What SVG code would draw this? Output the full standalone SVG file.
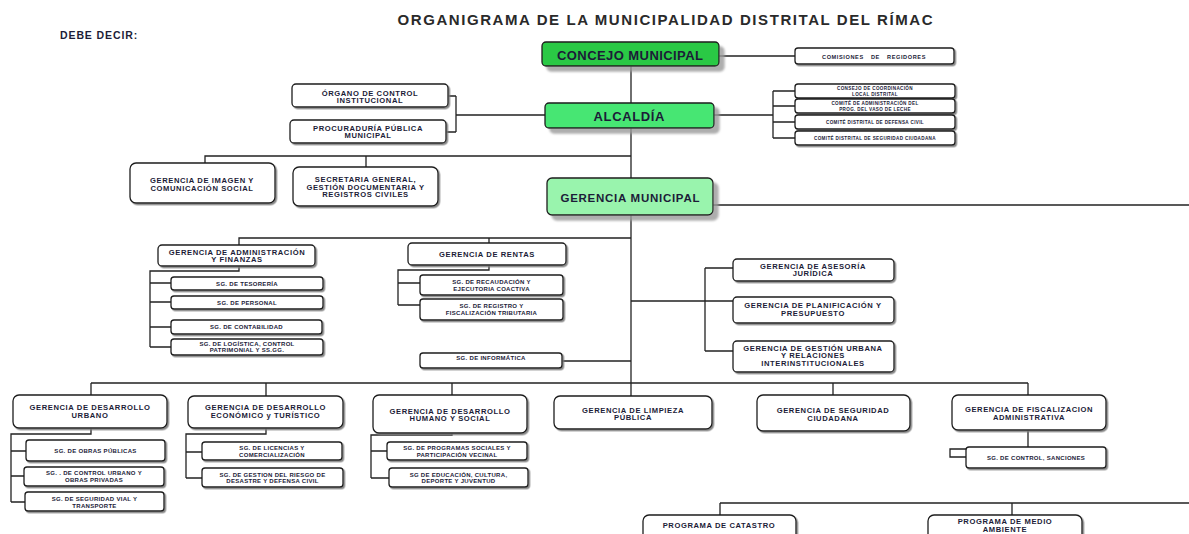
<svg xmlns="http://www.w3.org/2000/svg" width="1189" height="534" viewBox="0 0 1189 534">
<defs>
<filter id="ds" x="-10%" y="-20%" width="125%" height="150%"><feDropShadow dx="1.5" dy="1.5" stdDeviation="0.4" flood-color="#7a7a7a" flood-opacity="0.9"/></filter>
<filter id="dg" x="-10%" y="-20%" width="125%" height="160%"><feDropShadow dx="5" dy="5" stdDeviation="1" flood-color="#9a9a9a" flood-opacity="0.8"/></filter>
</defs>
<style>
.b{fill:#fff;stroke:#1e1e1e;stroke-width:1.3;filter:url(#ds)}
.g{stroke:#1e1e1e;stroke-width:1.3;filter:url(#dg)}
.c{fill:none;stroke:#222;stroke-width:1.3}
text{font-family:"Liberation Sans",Arial,sans-serif;font-weight:bold;fill:#1c1c38;text-anchor:middle}
.h{font-size:7.6px;letter-spacing:0.6px}
.s{font-size:6px;letter-spacing:0.3px}
.k{font-size:4.6px;letter-spacing:0.35px}
</style>
<rect width="1189" height="534" fill="#fff"/>
<text x="665" y="25" font-size="15" textLength="535" style="fill:#2a2a2a">ORGANIGRAMA DE LA MUNICIPALIDAD DISTRITAL DEL RÍMAC</text>
<text x="60" y="39" font-size="10.5" style="text-anchor:start;letter-spacing:0.9px">DEBE DECIR:</text>

<g id="connectors">
<path class="c" d="M631,66V396"/>
<path class="c" d="M719,56H795"/>
<path class="c" d="M714,115H773M773,91V138M773,91H795M773,106H795M773,122H795M773,138H795"/>
<path class="c" d="M545,115H456M456,96V132M448,96H456M446,132H456"/>
<path class="c" d="M631,156H205V163M366,156V167"/>
<path class="c" d="M713,205H1189"/>
<path class="c" d="M631,238H239V245M489,238V243"/>
<path class="c" d="M239,266V271H150V347M150,283H171M150,302H171M150,327H171M150,347H171"/>
<path class="c" d="M489,265V270H398V305M398,283H420M398,305H420"/>
<path class="c" d="M562,361H631"/>
<path class="c" d="M631,301H733M705,268V351M705,268H733M705,351H733"/>
<path class="c" d="M91,383H1028M91,383V395M266,383V396M452,383V395M833,383V395M1028,383V395"/>
<path class="c" d="M91,428V434H11V502M11,451H26M11,476H24M11,502H25"/>
<path class="c" d="M266,428V434H186V478M186,452H202M186,478H202"/>
<path class="c" d="M452,433V435H371V478M371,451H387M371,478H389"/>
<path class="c" d="M1028,430V449H950V457H966"/>
<path class="c" d="M720,503H1189M720,503V515M1012,503V515"/>
</g>

<g id="concejo"><rect class="g" x="542" y="42" width="177" height="24" rx="4" fill="#2cc944"/><text x="630" y="59.5" font-size="13" textLength="146">CONCEJO MUNICIPAL</text></g>
<g id="comisiones"><rect class="b" x="795" y="48" width="159" height="16" rx="3"/><text x="874" y="58.5" font-size="5.6" style="letter-spacing:0.6px;word-spacing:5px">COMISIONES DE REGIDORES</text></g>
<g id="alcaldia"><rect class="g" x="545" y="103" width="169" height="25" rx="4" fill="#47e673"/><text x="629" y="120.5" font-size="13" textLength="71">ALCALDÍA</text></g>
<g id="organo"><rect class="b" x="292" y="84" width="156" height="23" rx="4"/><text class="h" x="370" y="95.5">ÓRGANO DE CONTROL</text><text class="h" x="370" y="102.5">INSTITUCIONAL</text></g>
<g id="procuraduria"><rect class="b" x="290" y="120" width="156" height="23" rx="4"/><text class="h" x="368" y="130.5">PROCURADURÍA PÚBLICA</text><text class="h" x="368" y="137.5">MUNICIPAL</text></g>
<g id="consejo-coord"><rect class="b" x="795" y="84" width="160" height="14" rx="3"/><text class="k" x="875" y="90">CONSEJO  DE COORDINACIÓN</text><text class="k" x="875" y="95.5">LOCAL DISTRITAL</text></g>
<g id="comite-vaso"><rect class="b" x="795" y="99" width="160" height="14" rx="3"/><text class="k" x="875" y="105">COMITÉ DE ADMINISTRACIÓN DEL</text><text class="k" x="875" y="110.5">PROG. DEL VASO DE LECHE</text></g>
<g id="comite-defensa"><rect class="b" x="795" y="115" width="160" height="14" rx="3"/><text class="k" x="875" y="123.8">COMITÉ DISTRITAL DE DEFENSA CIVIL</text></g>
<g id="comite-seguridad"><rect class="b" x="795" y="131" width="160" height="14" rx="3"/><text class="k" x="875" y="139.8">COMITÉ DISTRITAL DE SEGURIDAD CIUDADANA</text></g>
<g id="imagen"><rect class="b" x="130" y="163" width="145" height="40" rx="6"/><text class="h" x="202" y="182.5">GERENCIA DE IMAGEN Y</text><text class="h" x="202" y="190.5">COMUNICACIÓN SOCIAL</text></g>
<g id="secretaria"><rect class="b" x="293" y="167" width="145" height="39" rx="6"/><text class="h" x="365.5" y="182">SECRETARIA  GENERAL,</text><text class="h" x="365.5" y="189.5">GESTIÓN DOCUMENTARIA Y</text><text class="h" x="365.5" y="197">REGISTROS CIVILES</text></g>
<g id="gerencia-municipal"><rect class="g" x="547" y="178" width="166" height="37" rx="5" fill="#99f4ad"/><text x="630" y="202" font-size="11.5" textLength="139">GERENCIA MUNICIPAL</text></g>

<g id="administracion"><rect class="b" x="158" y="245" width="157" height="21" rx="4"/><text class="h" x="237" y="255">GERENCIA DE ADMINISTRACIÓN</text><text class="h" x="237" y="262">Y FINANZAS</text></g>
<g id="tesoreria"><rect class="b" x="171" y="277" width="152" height="13" rx="3"/><text class="s" x="247" y="285.5">SG. DE TESORERÍA</text></g>
<g id="personal"><rect class="b" x="171" y="296" width="152" height="13" rx="3"/><text class="s" x="247" y="304.5">SG. DE PERSONAL</text></g>
<g id="contabilidad"><rect class="b" x="171" y="320" width="151" height="14" rx="3"/><text class="s" x="246.5" y="329">SG. DE CONTABILIDAD</text></g>
<g id="logistica"><rect class="b" x="171" y="339" width="152" height="16" rx="3"/><text class="s" x="247" y="345.5">SG.  DE  LOGÍSTICA, CONTROL</text><text class="s" x="247" y="352">PATRIMONIAL Y SS.GG.</text></g>
<g id="rentas"><rect class="b" x="408" y="243" width="158" height="22" rx="4"/><text class="h" x="487" y="256.5">GERENCIA DE RENTAS</text></g>
<g id="recaudacion"><rect class="b" x="420" y="275" width="143" height="20" rx="3"/><text class="s" x="491.5" y="284">SG. DE RECAUDACIÓN Y</text><text class="s" x="491.5" y="290.5">EJECUTORIA COACTIVA</text></g>
<g id="registro"><rect class="b" x="420" y="299" width="143" height="21" rx="3"/><text class="s" x="491.5" y="308">SG. DE REGISTRO Y</text><text class="s" x="491.5" y="314.5">FISCALIZACIÓN TRIBUTARIA</text></g>
<g id="informatica"><rect class="b" x="420" y="353" width="142" height="15" rx="3"/><text class="s" x="491" y="359.5">SG. DE INFORMÁTICA</text></g>
<g id="asesoria"><rect class="b" x="733" y="259" width="161" height="22" rx="4"/><text class="h" x="813" y="269">GERENCIA DE ASESORÍA</text><text class="h" x="813" y="276">JURÍDICA</text></g>
<g id="planificacion"><rect class="b" x="733" y="297" width="161" height="26" rx="4"/><text class="h" x="813" y="308">GERENCIA  DE PLANIFICACIÓN Y</text><text class="h" x="813" y="315.5">PRESUPUESTO</text></g>
<g id="gestion-urbana"><rect class="b" x="733" y="341" width="161" height="31" rx="4"/><text class="h" x="813" y="350.5">GERENCIA DE GESTIÓN URBANA</text><text class="h" x="813" y="358">Y RELACIONES</text><text class="h" x="813" y="365.5">INTERINSTITUCIONALES</text></g>

<g id="desarrollo-urbano"><rect class="b" x="13" y="395" width="154" height="33" rx="6"/><text class="h" x="90" y="410">GERENCIA DE DESARROLLO</text><text class="h" x="90" y="417.5">URBANO</text></g>
<g id="desarrollo-economico"><rect class="b" x="188" y="396" width="155" height="32" rx="6"/><text class="h" x="265.5" y="410">GERENCIA DE DESARROLLO</text><text class="h" x="265.5" y="417.5">ECONÓMICO y TURÍSTICO</text></g>
<g id="desarrollo-humano"><rect class="b" x="373" y="395" width="154" height="38" rx="6"/><text class="h" x="450" y="413.5">GERENCIA DE DESARROLLO</text><text class="h" x="450" y="421">HUMANO Y SOCIAL</text></g>
<g id="limpieza"><rect class="b" x="554" y="396" width="158" height="33" rx="6"/><text class="h" x="633" y="412.5">GERENCIA DE LIMPIEZA</text><text class="h" x="633" y="420">PÚBLICA</text></g>
<g id="seguridad"><rect class="b" x="757" y="395" width="153" height="36" rx="6"/><text class="h" x="833" y="412.5">GERENCIA DE SEGURIDAD</text><text class="h" x="833" y="420.5">CIUDADANA</text></g>
<g id="fiscalizacion"><rect class="b" x="952" y="395" width="154" height="35" rx="6"/><text class="h" x="1029" y="411.5">GERENCIA DE FISCALIZACION</text><text class="h" x="1029" y="419.5">ADMINISTRATIVA</text></g>

<g id="obras-publicas"><rect class="b" x="26" y="440" width="139" height="21" rx="3"/><text class="s" x="95.5" y="453">SG. DE OBRAS PÚBLICAS</text></g>
<g id="control-urbano"><rect class="b" x="24" y="467" width="140" height="19" rx="3"/><text class="s" x="94" y="475">SG. . DE CONTROL URBANO  Y</text><text class="s" x="94" y="481.5">OBRAS  PRIVADAS</text></g>
<g id="seguridad-vial"><rect class="b" x="25" y="492" width="139" height="19" rx="3"/><text class="s" x="94.5" y="500.5">SG. DE SEGURIDAD VIAL Y</text><text class="s" x="94.5" y="507.5">TRANSPORTE</text></g>
<g id="licencias"><rect class="b" x="202" y="442" width="140" height="18" rx="3"/><text class="s" x="272" y="450">SG. DE LICENCIAS Y</text><text class="s" x="272" y="456.5">COMERCIALIZACIÓN</text></g>
<g id="riesgo"><rect class="b" x="202" y="468" width="141" height="19" rx="3"/><text class="s" x="272.5" y="476.5">SG. DE GESTION DEL RIESGO DE</text><text class="s" x="272.5" y="483">DESASTRE Y DEFENSA CIVIL</text></g>
<g id="programas-sociales"><rect class="b" x="387" y="442" width="140" height="18" rx="3"/><text class="s" x="457" y="450">SG. DE PROGRAMAS SOCIALES Y</text><text class="s" x="457" y="456.5">PARTICIPACIÓN VECINAL</text></g>
<g id="educacion"><rect class="b" x="389" y="468" width="139" height="19" rx="3"/><text class="s" x="458.5" y="476.5">SG DE EDUCACIÓN, CULTURA,</text><text class="s" x="458.5" y="483">DEPORTE Y JUVENTUD</text></g>
<g id="control-sanciones"><rect class="b" x="966" y="447" width="140" height="21" rx="3"/><text class="s" x="1036" y="460">SG. DE CONTROL, SANCIONES</text></g>
<g id="catastro"><rect class="b" x="643" y="515" width="153" height="30" rx="6"/><text class="h" x="719" y="527.5">PROGRAMA DE CATASTRO</text></g>
<g id="medio-ambiente"><rect class="b" x="928" y="515" width="154" height="30" rx="6"/><text class="h" x="1005" y="524">PROGRAMA DE MEDIO</text><text class="h" x="1005" y="531.5">AMBIENTE</text></g>
</svg>
